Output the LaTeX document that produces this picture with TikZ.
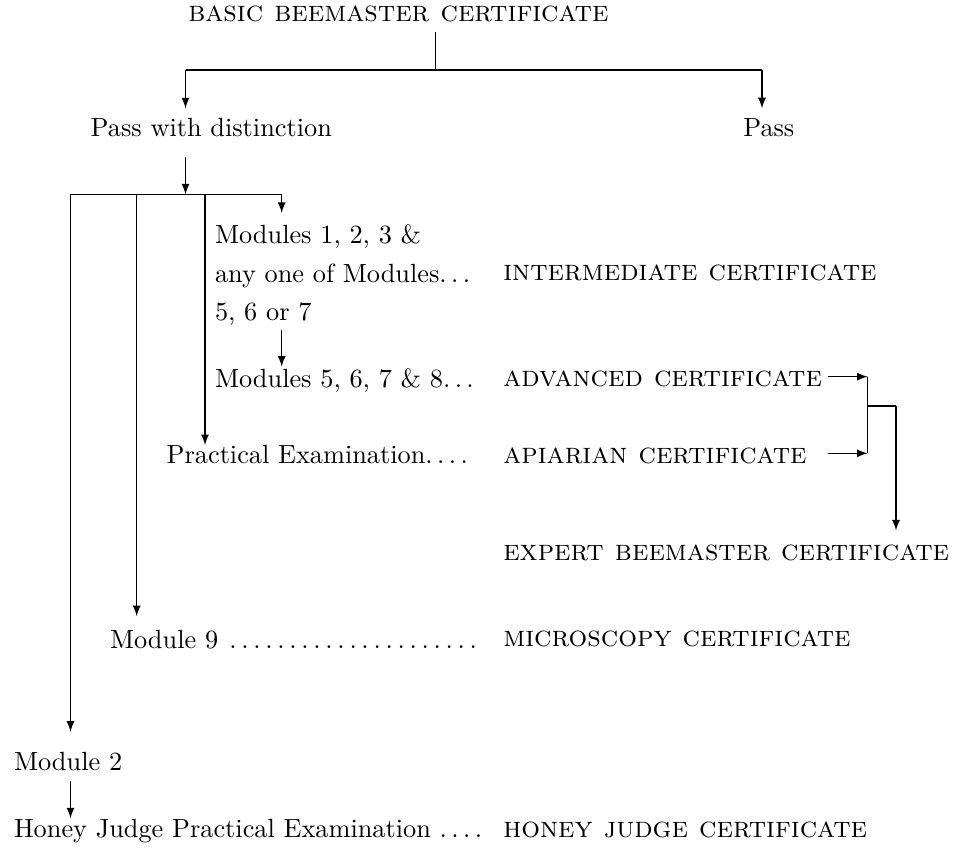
\documentclass[tikz,border=0pt]{standalone}
\usepackage{tikz}
\usetikzlibrary{arrows,calc}
\newcommand{\sdots}{.\kern1.67pt.\kern1.67pt.\kern1.67pt}

\begin{document}
\begin{tikzpicture}[x=0.3802pt,y=-0.3802pt,>=latex,txt/.style={inner sep=0pt,outer sep=0pt,anchor=base west},cert/.style={font=\fontsize{11.2}{13}\selectfont\scshape}]
\useasboundingbox (0,0) rectangle (953,848);
\begin{scope}[every node/.style={txt}]
\node[cert] (basic) at (188.3,21.7) {basic beemaster certificate};
\node (dist) at (90.7,136.7) {Pass with distinction};
\node (pass) at (743.3,136.7) {Pass};
\node[align=left] (mods) at (215,320.7) {Modules 1, 2, 3 \&\\[2.7pt] any one of Modules\sdots\\[2.7pt] 5, 6 or 7};
\node[cert] (inter) at (503.3,280) {intermediate certificate};
\node (modsb) at (215,387.3) {Modules 5, 6, 7 \& 8\sdots};
\node[cert] (adv) at (503.3,386.7) {advanced certificate};
\node (prac) at (166.7,463.3) {Practical Examination\sdots.};
\node[cert] (api) at (503.3,463.3) {apiarian certificate};
\node[cert] (expert) at (503.3,560) {expert beemaster certificate};
\node (mod9) at (110,648.3) {Module 9 \hbox to 96pt{\xleaders\hbox to 4.45pt{\hss.\hss}\hfill}};
\node[cert] (micro) at (503.3,646.7) {microscopy certificate};
\node (mod2) at (14,770.7) {Module 2};
\node (honey) at (14,837.3) {Honey Judge Practical Examination \sdots.};
\node[cert] (judge) at (503.3,837.3) {honey judge certificate};
\end{scope}
% branch points
\coordinate (top) at (435.7,70);
\coordinate (dl) at (185.5,70);
\coordinate (pl) at (762,70);
\coordinate (bus) at (185.5,194.3);
\coordinate (b0) at (70.5,194.3);
\coordinate (b1) at (136.7,194.3);
\coordinate (b2) at (205,194.3);
\coordinate (b3) at (281.7,194.3);
\coordinate (ja) at (867.7,376.7);
\coordinate (jb) at (867.7,453.3);
\coordinate (jn) at (867.7,406);
\coordinate (jr) at (896,406);
\begin{scope}
\draw[shorten <=3.9pt] (basic.south -| top) -- (top);
\draw (dl) -- (pl);
\draw[->,shorten >=3.85pt] (dl) -- (dl |- dist.north);
\draw[->,shorten >=4pt] (pl) -- (pl |- pass.north);
\draw[->,shorten <=7.6pt] (dist.south -| dl) -- (bus);
\draw (b0) -- (b3);
\draw[->,shorten >=4.4pt] (b3) -- (b3 |- mods.north);
\draw[->] (b2) -- (b2 |- prac.north);
\draw[->,shorten >=5.3pt] (b1) -- (b1 |- mod9.north);
\draw[->,shorten >=7.9pt] (b0) -- (b0 |- mod2.north);
\draw[->,shorten <=1.6pt,shorten >=0.7pt] (mods.south -| b3) -- (modsb.north -| b3);
\draw[->] (ja -| adv.east) ++(2.4pt,0) -- (ja);
\draw[->] (jb -| adv.east) ++(2.4pt,0) -- (jb);
\draw (ja) -- (jb);
\draw (jn) -- (jr);
\draw[->,shorten >=5.3pt] (jr) -- (jr |- expert.north);
\draw[->,shorten <=3.9pt,shorten >=0.3pt] (mod2.south -| b0) -- (honey.north -| b0);
\end{scope}
\end{tikzpicture}
\end{document}
